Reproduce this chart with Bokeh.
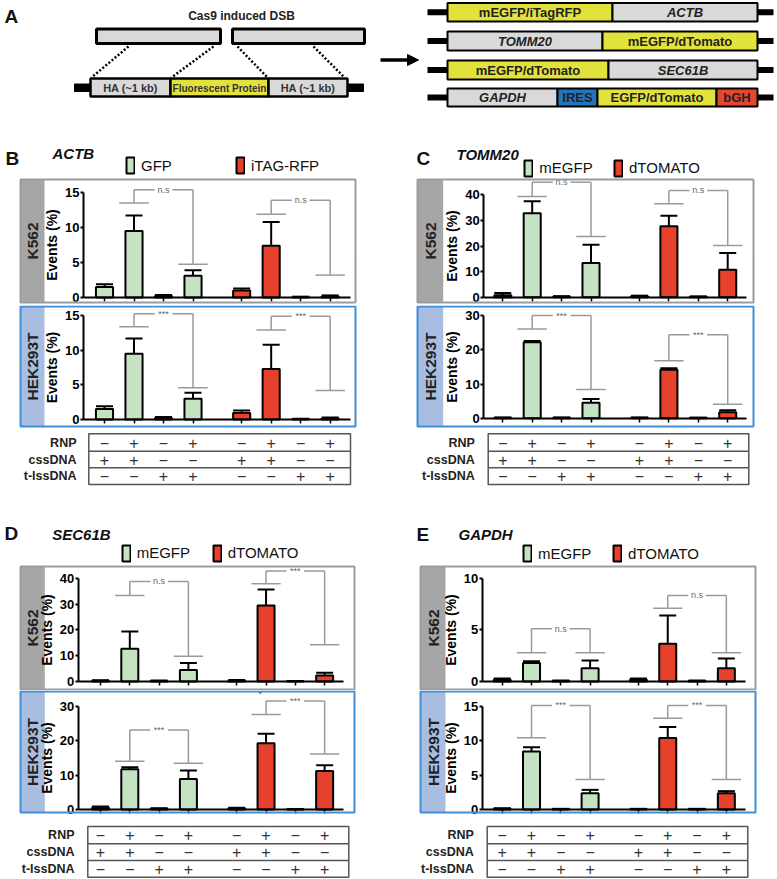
from bokeh.plotting import figure
from bokeh.models import (Range1d, LinearAxis, FixedTicker, ColumnDataSource, Whisker,
                          TeeHead, BoxAnnotation, Label, Legend, LegendItem, Arrow, NormalHead)
from bokeh.layouts import column, row
from bokeh.embed import file_html
from bokeh.resources import INLINE
from bokeh.core.properties import value, field

# ============================ DATA ============================
rnp_signs     = ["−", "+", "−", "+", "−", "+", "−", "+"]
cssdna_signs  = ["+", "+", "−", "−", "+", "+", "−", "−"]
tlssdna_signs = ["−", "−", "+", "+", "−", "−", "+", "+"]
table_row_labels = ["RNP", "cssDNA", "t-lssDNA"]

panel_letters = ["B", "C", "D", "E"]
gene_names = ["ACTB", "TOMM20", "SEC61B", "GAPDH"]
series_actb = ["GFP", "iTAG-RFP"]
series_other = ["mEGFP", "dTOMATO"]
cell_lines = ["K562", "HEK293T"]
y_axis_title = "Events (%)"
sig_pairs = [(1, 3), (5, 7)]

# ACTB
actb_k562_mean  = [1.5, 9.5, 0.2, 3.1, 1.0, 7.4, 0.05, 0.15]
actb_k562_upper = [1.9, 11.7, 0.35, 3.9, 1.3, 10.8, 0.12, 0.3]
actb_k562_ticks = [0, 5, 10, 15]
actb_k562_sig_left  = [13.5, 11.9]
actb_k562_sig_top   = [15.4, 13.9]
actb_k562_sig_right = [4.76, 3.2]
actb_k562_sig_text  = ["n.s", "n.s"]
actb_hek_mean  = [1.5, 9.5, 0.2, 3.0, 0.95, 7.3, 0.05, 0.15]
actb_hek_upper = [1.9, 11.7, 0.35, 3.85, 1.3, 10.8, 0.12, 0.3]
actb_hek_ticks = [0, 5, 10, 15]
actb_hek_sig_left  = [13.4, 12.9]
actb_hek_sig_top   = [15.25, 14.9]
actb_hek_sig_right = [4.57, 4.18]
actb_hek_sig_text  = ["***", "***"]

# TOMM20
tomm20_k562_mean  = [0.8, 32.8, 0.2, 13.4, 0.4, 27.7, 0.15, 10.7]
tomm20_k562_upper = [1.6, 37.5, 0.4, 20.5, 0.6, 31.8, 0.3, 17.3]
tomm20_k562_ticks = [0, 10, 20, 30, 40]
tomm20_k562_sig_left  = [39.3, 36.5]
tomm20_k562_sig_top   = [44.9, 41.7]
tomm20_k562_sig_right = [23.7, 20.2]
tomm20_k562_sig_text  = ["n.s", "n.s"]
tomm20_hek_mean  = [0.1, 22.2, 0.1, 4.5, 0.1, 14.2, 0.1, 1.75]
tomm20_hek_upper = [0.2, 22.6, 0.2, 5.6, 0.2, 14.6, 0.15, 2.3]
tomm20_hek_ticks = [0, 10, 20, 30]
tomm20_hek_sig_left  = [26.1, 16.8]
tomm20_hek_sig_top   = [30.0, 24.4]
tomm20_hek_sig_right = [8.4, 4.1]
tomm20_hek_sig_text  = ["***", "***"]

# SEC61B
sec61b_k562_mean  = [0.3, 12.7, 0.2, 4.5, 0.3, 29.5, 0.1, 2.3]
sec61b_k562_upper = [0.5, 19.4, 0.4, 7.2, 0.6, 35.7, 0.2, 3.4]
sec61b_k562_ticks = [0, 10, 20, 30, 40]
sec61b_k562_sig_left  = [33.3, 37.9]
sec61b_k562_sig_top   = [38.8, 42.8]
sec61b_k562_sig_right = [9.8, 14.2]
sec61b_k562_sig_text  = ["n.s", "***"]
sec61b_hek_mean  = [0.5, 11.7, 0.2, 8.9, 0.3, 19.3, 0.05, 11.2]
sec61b_hek_upper = [0.9, 12.3, 0.4, 11.4, 0.5, 22.1, 0.1, 12.9]
sec61b_hek_ticks = [0, 10, 20, 30]
sec61b_hek_sig_left  = [14.1, 27.7]
sec61b_hek_sig_top   = [23.2, 31.6]
sec61b_hek_sig_right = [13.5, 16.2]
sec61b_hek_sig_text  = ["***", "***"]
sec61b_hek_stray_mark = ["*"]
sec61b_hek_stray_bar = [5]
sec61b_hek_stray_y = [33.6]

# GAPDH
gapdh_k562_mean  = [0.16, 1.8, 0.05, 1.29, 0.16, 3.65, 0.05, 1.29]
gapdh_k562_upper = [0.3, 1.97, 0.1, 2.03, 0.3, 6.39, 0.1, 2.23]
gapdh_k562_ticks = [0, 5, 10]
gapdh_k562_sig_left  = [2.78, 7.1]
gapdh_k562_sig_top   = [5.1, 8.33]
gapdh_k562_sig_right = [2.78, 2.78]
gapdh_k562_sig_text  = ["n.s", "n.s"]
gapdh_hek_mean  = [0.1, 8.44, 0.05, 2.37, 0.05, 10.4, 0.05, 2.37]
gapdh_hek_upper = [0.2, 9.07, 0.1, 2.86, 0.1, 12.0, 0.1, 2.67]
gapdh_hek_ticks = [0, 5, 10, 15]
gapdh_hek_sig_left  = [10.44, 13.3]
gapdh_hek_sig_top   = [15.15, 15.15]
gapdh_hek_sig_right = [4.37, 4.37]
gapdh_hek_sig_text  = ["***", "***"]

# ============================ STYLE / LAYOUT ============================
FONT = "Liberation Sans"
GREEN = "#c5e3c3"
RED = "#e5412c"
YELLOW = "#e2e23c"
LGRAY = "#d9d9d9"
IRES_BLUE = "#2574bb"
BGH_RED = "#e4472f"
SIG = "#9a9a9a"
K562_STYLE = dict(band="#a6a6a6", border="#9c9c9c")
HEK_STYLE = dict(band="#a8bddf", border="#3d8fd6")

GAP = 0.65
pos = [i + (GAP if i >= 4 else 0.0) for i in range(8)]


def chart_data(prefix):
    g = globals()
    d = dict(mean=g[prefix + "_mean"], upper=g[prefix + "_upper"], ticks=g[prefix + "_ticks"],
             sig_left=g[prefix + "_sig_left"], sig_top=g[prefix + "_sig_top"],
             sig_right=g[prefix + "_sig_right"], sig_text=g[prefix + "_sig_text"])
    if prefix + "_stray_mark" in g:
        d["stray"] = (g[prefix + "_stray_mark"], g[prefix + "_stray_bar"], g[prefix + "_stray_y"])
    return d


# geometry in page pixels
geo = {
    "B": dict(cx0=0, W=408, fl=20, fw=335, b1=104.0, s=29.5, axis=83.0, xend=350.0, band=44.0,
              tbl=(88.3, 350.0), lbl_r=76.0, letter=(5, 158), gene=(52, 153), leg=(125.0, 235.0),
              leg_bottom=175.3),
    "C": dict(cx0=408, W=369, fl=417, fw=336, b1=502.3, s=29.4, axis=483.3, xend=745.7, band=442.7,
              tbl=(487.7, 748.3), lbl_r=474.3, letter=(416, 158), gene=(456, 154), leg=(523.3, 613.0),
              leg_bottom=177.5),
    "D": dict(cx0=0, W=408, fl=20, fw=334, b1=100.0, s=29.3, axis=77.7, xend=343.3, band=44.3,
              tbl=(87.3, 348.3), lbl_r=74.0, letter=(4, 533.3), gene=(51.7, 534), leg=(120.7, 211.7),
              leg_bottom=562.7),
    "E": dict(cx0=408, W=369, fl=420, fw=335, b1=501.7, s=29.3, axis=481.7, xend=745.0, band=445.0,
              tbl=(486.7, 747.3), lbl_r=473.3, letter=(416, 534), gene=(458, 534), leg=(522.0, 612.0),
              leg_bottom=563.0),
}
rows = {
    "BC": dict(k562=dict(canvas=(136, 305), frame=(179, 302)),
               hek=dict(canvas=(305, 428), frame=(306, 426)),
               table=dict(canvas=(428, 508), lines=(433.3, 450.7, 467.3, 484.0), centers=(442.0, 459.0, 475.5))),
    "DE": dict(k562=dict(canvas=(508, 690), frame=(566, 689)),
               hek=dict(canvas=(690, 817), frame=(691, 812)),
               table=dict(canvas=(817, 879), lines=(826.0, 843.3, 860.0, 876.7), centers=(834.7, 851.7, 868.3))),
}
yscale = {
    "B": dict(k562=(297.0, 7.0), hek=(419.0, 6.93)),
    "C": dict(k562=(296.7, 2.56), hek=(417.7, 3.42)),
    "D": dict(k562=(681.0, 2.58), hek=(809.0, 3.43)),
    "E": dict(k562=(681.0, 10.33), hek=(809.0, 6.87)),
}
for k, g in geo.items():
    g["xr"] = Range1d((g["cx0"] - g["b1"]) / g["s"], (g["cx0"] + g["W"] - g["b1"]) / g["s"])


def Xmap(g):
    return lambda px: (px - g["b1"]) / g["s"]


def base_fig(g, height, y_range):
    p = figure(width=g["W"], height=height, x_range=g["xr"], y_range=y_range,
               min_border_left=0, min_border_right=0, min_border_top=0, min_border_bottom=0,
               x_axis_location=None, y_axis_location=None, toolbar_location=None, tools="",
               output_backend="svg", title=None, outline_line_color=None,
               background_fill_color="white", border_fill_color="white")
    p.grid.grid_line_color = None
    return p


def chart(letter, gene, series, cell, style, data, rowgeo, zp, header):
    g = geo[letter]
    X = Xmap(g)
    ct, cb = rowgeo["canvas"]
    ft, fb = rowgeo["frame"]
    z, ppu = zp
    Y = lambda py: (z - py) / ppu
    p = base_fig(g, int(cb - ct), Range1d(Y(cb), Y(ct)))
    bl, br, bb, bt = X(g["fl"]), X(g["fl"] + g["fw"]), Y(fb), Y(ft)

    # side band
    p.add_layout(BoxAnnotation(left=bl, right=X(g["band"]), bottom=bb, top=bt,
                               fill_color=style["band"], fill_alpha=1, line_alpha=0, level="underlay"))
    p.add_layout(Label(x=X((g["fl"] + g["band"]) / 2), y=(bb + bt) / 2, text=cell, angle=90,
                       angle_units="deg", text_align="center", text_baseline="middle", text_font=FONT,
                       text_font_style="bold", text_font_size="15.5px", text_color="#222222"))

    # axes
    ticks = data["ticks"]
    yax = LinearAxis(fixed_location=X(g["axis"]), bounds=(0, ticks[-1]), ticker=FixedTicker(ticks=ticks),
                     axis_label=y_axis_title)
    yax.axis_line_width = 2
    yax.major_tick_line_width = 2
    yax.major_tick_out = 3
    yax.major_tick_in = 0
    yax.minor_tick_line_color = None
    yax.major_label_standoff = 1
    yax.major_label_text_font = FONT
    yax.major_label_text_font_style = "bold"
    yax.major_label_text_font_size = "13px"
    yax.major_label_text_color = "black"
    yax.axis_label_text_font = FONT
    yax.axis_label_text_font_style = "bold"
    yax.axis_label_text_font_size = "14px"
    yax.axis_label_text_color = "black"
    yax.axis_label_standoff = 2
    p.add_layout(yax, "left")

    xax = LinearAxis(fixed_location=0, bounds=(X(g["axis"]), X(g["xend"])), ticker=FixedTicker(ticks=pos))
    xax.axis_line_width = 2
    xax.major_tick_line_width = 1.5
    xax.major_tick_out = 4
    xax.major_tick_in = 0
    xax.minor_tick_line_color = None
    xax.major_label_text_color = None
    p.add_layout(xax, "below")

    # bars and error bars
    rends = []
    for k, color in enumerate([GREEN, RED]):
        sl = slice(4 * k, 4 * k + 4)
        src = ColumnDataSource(dict(x=pos[sl], top=data["mean"][sl], upper=data["upper"][sl]))
        p.add_layout(Whisker(source=src, base="x", lower="top", upper="upper", line_width=2,
                             line_color="black",
                             upper_head=TeeHead(size=17, line_width=2, line_color="black"),
                             lower_head=None))
        r = p.vbar(x="x", top="top", bottom=0, width=0.58, source=src, fill_color=color,
                   line_color="black", line_width=2)
        rends.append(r)

    # significance brackets
    sx0, sy0, sx1, sy1, tx, ty = [], [], [], [], [], []
    for k, (i, j) in enumerate(sig_pairs):
        L, T, R = data["sig_left"][k], data["sig_top"][k], data["sig_right"][k]
        a, b = pos[i], pos[j]
        m = (a + b) / 2
        for seg in [(a - 0.5, L, a + 0.5, L), (a, L, a, T), (a, T, m - 0.3, T),
                    (m + 0.3, T, b, T), (b, T, b, R), (b - 0.5, R, b + 0.5, R)]:
            sx0.append(seg[0]); sy0.append(seg[1]); sx1.append(seg[2]); sy1.append(seg[3])
        tx.append(m); ty.append(T)
    p.segment(x0=sx0, y0=sy0, x1=sx1, y1=sy1, line_color=SIG, line_width=1.5)
    p.text(x=tx, y=ty, text=data["sig_text"], text_align="center", text_baseline="middle",
           text_font=value(FONT), text_font_size="9px", text_color="#666666")
    if "stray" in data:
        marks, bars, ys = data["stray"]
        p.text(x=[pos[b] - 0.2 for b in bars], y=ys, text=marks, text_align="center",
               text_baseline="middle", text_font=value(FONT), text_font_size="9px",
               text_color="#444444")

    # box outline
    p.add_layout(BoxAnnotation(left=bl, right=br, bottom=bb, top=bt, fill_alpha=0,
                               line_color=style["border"], line_alpha=1, line_width=2))

    if header:
        p.add_layout(Label(x=X(g["letter"][0]), y=Y(g["letter"][1]), text=letter, text_align="left",
                           text_baseline="middle", text_font=FONT, text_font_style="bold",
                           text_font_size="19px", text_color="#111111"))
        p.add_layout(Label(x=X(g["gene"][0]), y=Y(g["gene"][1]), text=gene, text_align="left",
                           text_baseline="middle", text_font=FONT, text_font_style="bold italic",
                           text_font_size="15px", text_color="#111111"))
        for k, name in enumerate(series):
            leg = Legend(items=[LegendItem(label=name, renderers=[rends[k]])],
                         location=(g["leg"][k] - g["cx0"], cb - g["leg_bottom"]),
                         orientation="horizontal", padding=0, margin=0, spacing=0,
                         glyph_width=10, glyph_height=20, label_height=20, label_width=10,
                         label_standoff=6, label_text_font=FONT, label_text_font_size="15px",
                         label_text_color="#111111", border_line_color=None,
                         background_fill_alpha=0)
            p.add_layout(leg)
    return p


def table(letter, tgeo):
    g = geo[letter]
    X = Xmap(g)
    ct, cb = tgeo["canvas"]
    p = base_fig(g, int(cb - ct), Range1d(cb, ct))
    L, R = X(g["tbl"][0]), X(g["tbl"][1])
    lines = tgeo["lines"]
    p.quad(left=[L], right=[R], top=[lines[0]], bottom=[lines[3]], fill_color=None,
           line_color="#555555", line_width=1.5)
    p.segment(x0=[L, L], x1=[R, R], y0=list(lines[1:3]), y1=list(lines[1:3]),
              line_color="#555555", line_width=1.5)
    cen = tgeo["centers"]
    p.text(x=[X(g["lbl_r"])] * 3, y=list(cen), text=table_row_labels, text_align="right",
           text_baseline="middle", text_font=value(FONT), text_font_style="bold",
           text_font_size="12.5px", text_color="#222222")
    signs = rnp_signs + cssdna_signs + tlssdna_signs
    xs = pos * 3
    ys = [c for c in cen for _ in range(8)]
    p.text(x=xs, y=ys, text=signs, text_align="center", text_baseline="middle",
           text_font=value(FONT), text_font_size="16px", text_color="#333333")
    return p


def panel(idx, prefix, series, rowkey):
    letter = panel_letters[idx]
    gene = gene_names[idx]
    rg = rows[rowkey]
    k = chart(letter, gene, series, cell_lines[0], K562_STYLE, chart_data(prefix + "_k562"),
              rg["k562"], yscale[letter]["k562"], True)
    h = chart(letter, gene, series, cell_lines[1], HEK_STYLE, chart_data(prefix + "_hek"),
              rg["hek"], yscale[letter]["hek"], False)
    t = table(letter, rg["table"])
    return column(k, h, t)


# ============================ PANEL A (schematic) ============================
pa = figure(width=777, height=136, x_range=Range1d(0, 777), y_range=Range1d(136, 0),
            min_border_left=0, min_border_right=0, min_border_top=0, min_border_bottom=0,
            x_axis_location=None, y_axis_location=None, toolbar_location=None, tools="",
            output_backend="svg", title=None, outline_line_color=None)
pa.grid.grid_line_color = None
pa.text(x=[4], y=[16], text=["A"], text_align="left", text_baseline="middle", text_font=value(FONT),
        text_font_style="bold", text_font_size="19px", text_color="#111111")
pa.text(x=[241], y=[15], text=["Cas9 induced DSB"], text_align="center", text_baseline="middle",
        text_font=value(FONT), text_font_style="bold", text_font_size="12px", text_color="#222222")
# genomic locus with break
pa.quad(left=[96, 232], right=[220, 364], top=[28.5, 28.5], bottom=[43, 43], fill_color=LGRAY,
        line_color="black", line_width=3)
pa.segment(x0=[128, 213, 237, 313], y0=[46, 46, 46, 46], x1=[91, 171, 267, 344], y1=[77, 77, 77, 77],
           line_color="black", line_width=2.5, line_dash="2 2")
# donor
pa.quad(left=[74], right=[363], top=[83.5], bottom=[91], fill_color="black", line_color="black")
pa.quad(left=[90, 170, 268], right=[170, 268, 347], top=[78, 78, 78], bottom=[96, 96, 96],
        fill_color=[LGRAY, YELLOW, LGRAY], line_color="black", line_width=2.5)
pa.text(x=[130, 219, 307.5], y=[87.5, 87.5, 87.5], text=["HA (~1 kb)", "Fluorescent Protein", "HA (~1 kb)"],
        text_align="center", text_baseline="middle", text_font=value(FONT), text_font_style="bold",
        text_font_size=["11px", "10px", "11px"], text_color="#333333")
# arrow
pa.add_layout(Arrow(end=NormalHead(size=11, fill_color="black", line_color="black"),
                    x_start=380, y_start=59.5, x_end=418, y_end=59.5, line_width=3.5, line_color="black"))
# tagged alleles
rows_y = [(2.5, 21), (31, 50), (60, 79), (88, 106)]
allele_parts = [
    [(447, 612, YELLOW, "mEGFP/iTagRFP", "bold"), (612, 757, LGRAY, "ACTB", "bold italic")],
    [(447, 602, LGRAY, "TOMM20", "bold italic"), (602, 757, YELLOW, "mEGFP/dTomato", "bold")],
    [(447, 608, YELLOW, "mEGFP/dTomato", "bold"), (608, 757, LGRAY, "SEC61B", "bold italic")],
    [(447, 557, LGRAY, "GAPDH", "bold italic"), (557, 597, IRES_BLUE, "IRES", "bold"),
     (597, 716, YELLOW, "EGFP/dTomato", "bold"), (716, 757, BGH_RED, "bGH", "bold")],
]
cy = [(a + b) / 2 for a, b in rows_y]
pa.segment(x0=[427] * 4, x1=[773] * 4, y0=cy, y1=cy, line_color="black", line_width=6)
ql, qr, qt, qb, qc, tx_, ty_, tt_, ts_ = [], [], [], [], [], [], [], [], []
for (yt, yb), parts in zip(rows_y, allele_parts):
    for (l, r, c, t, st) in parts:
        ql.append(l); qr.append(r); qt.append(yt); qb.append(yb); qc.append(c)
        tx_.append((l + r) / 2); ty_.append((yt + yb) / 2); tt_.append(t); ts_.append(st)
pa.quad(left=ql, right=qr, top=qt, bottom=qb, fill_color=qc, line_color="black", line_width=2)
src_txt = ColumnDataSource(dict(x=tx_, y=ty_, text=tt_, style=ts_))
pa.text(x="x", y="y", text="text", source=src_txt, text_align="center", text_baseline="middle",
        text_font=value(FONT), text_font_style=field("style"), text_font_size="13px",
        text_color="#222222")

# ============================ ASSEMBLY ============================
pB = panel(0, "actb", series_actb, "BC")
pC = panel(1, "tomm20", series_other, "BC")
pD = panel(2, "sec61b", series_other, "DE")
pE = panel(3, "gapdh", series_other, "DE")

layout = column(pa, row(pB, pC), row(pD, pE))

open("out.html", "w").write(file_html(layout, INLINE))
